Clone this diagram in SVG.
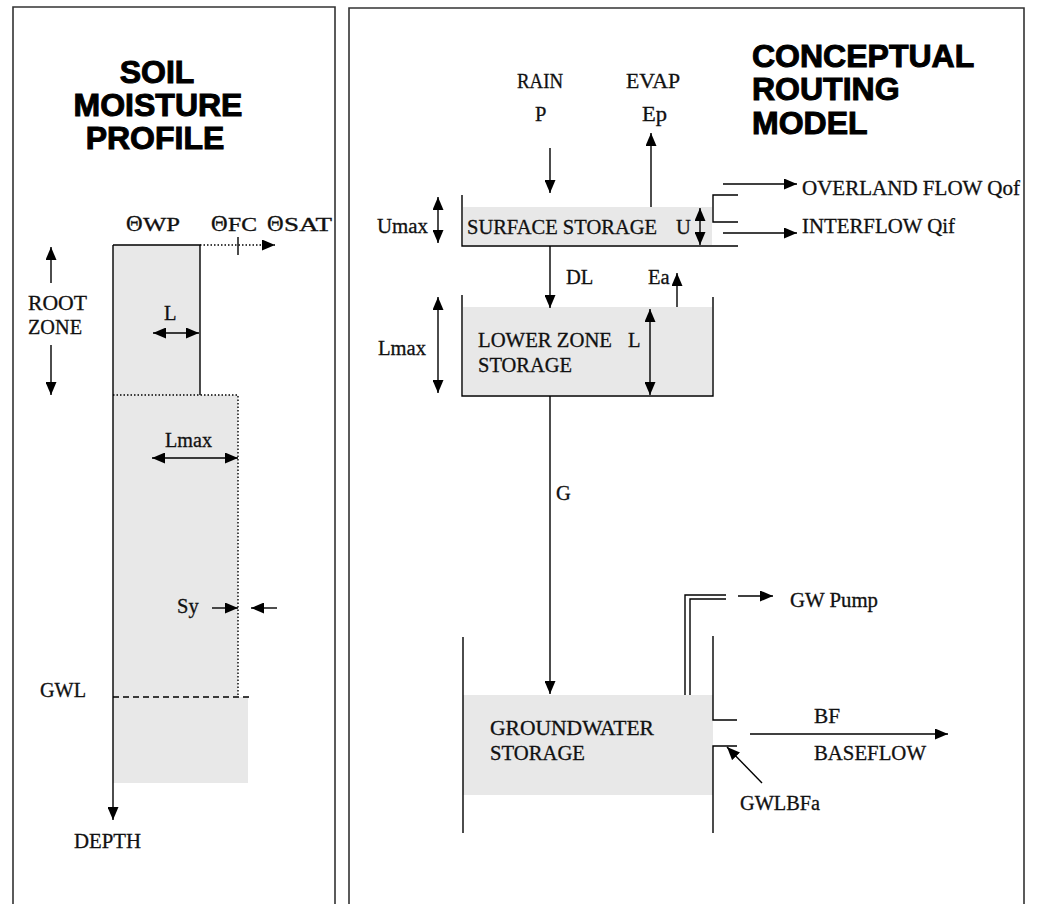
<svg xmlns="http://www.w3.org/2000/svg" width="1037" height="904" viewBox="0 0 1037 904">
<defs>
<marker id="ah" markerUnits="userSpaceOnUse" markerWidth="13" markerHeight="11" refX="13" refY="5.5" orient="auto-start-reverse"><path d="M0,0 L13,5.5 L0,11 z" fill="#000"/></marker>
<style>
.t{font-family:"Liberation Serif","Times New Roman",serif;font-size:20.5px;fill:#111;stroke:#111;stroke-width:0.3}
.s{font-size:18px}
.g{font-size:23px}
.h{font-family:"Liberation Sans",Arial,sans-serif;font-size:32px;font-weight:bold;fill:#000;stroke:#000;stroke-width:1}
.ln{stroke:#000;stroke-width:1.4;fill:none}
.ar{stroke:#000;stroke-width:1.4;fill:none;marker-end:url(#ah)}
.da{stroke:#000;stroke-width:1.4;fill:none;marker-start:url(#ah);marker-end:url(#ah)}
.dot{stroke:#000;stroke-width:1.4;fill:none;stroke-dasharray:1.5 2}
.dash{stroke:#000;stroke-width:1.4;fill:none;stroke-dasharray:6 4}
.fl{fill:#e8e8e8;stroke:none}
.bd{stroke:#333;stroke-width:1.6;fill:none}
</style>
</defs>
<rect width="1037" height="904" fill="#fff"/>

<g id="left-panel">
<path class="bd" d="M13,904 V7 H335 V904"/>
<g id="soil-title" class="h" text-anchor="middle">
<text x="157" y="83">SOIL</text>
<text x="158" y="116">MOISTURE</text>
<text x="155" y="149">PROFILE</text>
</g>
<g id="soil-profile">
<rect class="fl" x="113" y="245" width="87" height="150"/>
<rect class="fl" x="113" y="395" width="125" height="302"/>
<rect class="fl" x="113" y="697" width="135" height="86"/>
<path class="ln" d="M113,245 H200 V395"/>
<path class="dot" d="M113,395 H238 V697"/>
<path class="dash" d="M113,697 H251"/>
</g>
<g id="theta-labels" class="t">
<text class="g" x="126" y="231">Θ</text><text class="s" x="143" y="231" textLength="37" lengthAdjust="spacingAndGlyphs">WP</text>
<text class="g" x="211" y="231">Θ</text><text class="s" x="228" y="231" textLength="29" lengthAdjust="spacingAndGlyphs">FC</text>
<text class="g" x="267" y="231">Θ</text><text class="s" x="284" y="231" textLength="48" lengthAdjust="spacingAndGlyphs">SAT</text>
</g>
<g id="root-zone" class="t">
<text x="28" y="310" textLength="59" lengthAdjust="spacingAndGlyphs">ROOT</text>
<text x="28" y="334" textLength="54" lengthAdjust="spacingAndGlyphs">ZONE</text>
</g>
<g id="left-labels" class="t">
<text x="164" y="320">L</text>
<text x="165" y="447" textLength="47" lengthAdjust="spacingAndGlyphs">Lmax</text>
<text x="177" y="613">Sy</text>
<text x="40" y="697" textLength="46" lengthAdjust="spacingAndGlyphs">GWL</text>
<text x="74" y="848" textLength="67" lengthAdjust="spacingAndGlyphs">DEPTH</text>
</g>
</g>

<g id="right-panel">
<path class="bd" d="M349,904 V8 H1024 V904"/>
<g id="routing-title" class="h">
<text x="752" y="67">CONCEPTUAL</text>
<text x="752" y="100">ROUTING</text>
<text x="752" y="134">MODEL</text>
</g>
<g id="inputs" class="t">
<text x="517" y="88" textLength="46" lengthAdjust="spacingAndGlyphs">RAIN</text>
<text x="626" y="88" textLength="54" lengthAdjust="spacingAndGlyphs">EVAP</text>
<text x="535" y="121">P</text>
<text x="642" y="121" textLength="25" lengthAdjust="spacingAndGlyphs">Ep</text>
</g>
<g id="surface-storage">
<rect class="fl" x="463" y="207" width="249" height="38"/>
<path class="ln" d="M462,195 V246 H738"/>
<path class="ln" d="M738,195 H713 V222 H738"/>
<text class="t" x="467" y="234" textLength="190" lengthAdjust="spacingAndGlyphs">SURFACE STORAGE</text>
<text class="t" x="676" y="234">U</text>
<text class="t" x="377" y="233" textLength="51" lengthAdjust="spacingAndGlyphs">Umax</text>
</g>
<g id="outflows" class="t">
<text x="802" y="195" textLength="218" lengthAdjust="spacingAndGlyphs">OVERLAND FLOW Qof</text>
<text x="802" y="233" textLength="153" lengthAdjust="spacingAndGlyphs">INTERFLOW Qif</text>
</g>
<g id="lower-zone">
<rect class="fl" x="463" y="307" width="249" height="88"/>
<path class="ln" d="M462,295 V396 H713 V297"/>
<text class="t" x="478" y="347" textLength="134" lengthAdjust="spacingAndGlyphs">LOWER ZONE</text>
<text class="t" x="628" y="347">L</text>
<text class="t" x="478" y="372" textLength="94" lengthAdjust="spacingAndGlyphs">STORAGE</text>
<text class="t" x="378" y="355" textLength="48" lengthAdjust="spacingAndGlyphs">Lmax</text>
</g>
<g id="flux-labels" class="t">
<text x="566" y="284">DL</text>
<text x="648" y="284">Ea</text>
<text x="556" y="500">G</text>
</g>
<g id="groundwater-storage">
<rect class="fl" x="463" y="695" width="250" height="100"/>
<path class="ln" d="M463,637 V833"/>
<path class="ln" d="M713,636 V720 H737"/>
<path class="ln" d="M737,746 H713 V833"/>
<path class="ln" d="M685,695 V595 H726" stroke-width="1.2"/>
<path class="ln" d="M690,695 V599 H726" stroke-width="1.2"/>
<text class="t" x="490" y="735" textLength="164" lengthAdjust="spacingAndGlyphs">GROUNDWATER</text>
<text class="t" x="490" y="760" textLength="95" lengthAdjust="spacingAndGlyphs">STORAGE</text>
</g>
<g id="gw-labels" class="t">
<text x="790" y="607" textLength="88" lengthAdjust="spacingAndGlyphs">GW Pump</text>
<text x="814" y="723" textLength="26" lengthAdjust="spacingAndGlyphs">BF</text>
<text x="814" y="760" textLength="112" lengthAdjust="spacingAndGlyphs">BASEFLOW</text>
<text x="740" y="810" textLength="80" lengthAdjust="spacingAndGlyphs">GWLBFa</text>
</g>
</g>

<g id="connectors">
<path class="ar" d="M113,245 V820"/>
<path class="ar" d="M200,245 H275" stroke-dasharray="1.5 2"/>
<path class="ln" d="M238,237 V255"/>
<path class="ar" d="M51,283 V247"/>
<path class="ar" d="M51,345 V395"/>
<path class="da" d="M153,333 H199"/>
<path class="da" d="M152,458 H238"/>
<path class="ar" d="M212,608 H238"/>
<path class="ar" d="M277,608 H251"/>
<path class="ar" d="M550,148 V193"/>
<path class="ar" d="M651,207 V133"/>
<path class="ar" d="M723,184 H797"/>
<path class="ar" d="M723,233 H797"/>
<path class="da" d="M438,197 V243"/>
<path class="da" d="M700,208 V245"/>
<path class="ar" d="M550,246 V308"/>
<path class="ar" d="M677,307 V273"/>
<path class="da" d="M438,297 V393"/>
<path class="da" d="M650,309 V395"/>
<path class="ar" d="M550,396 V694"/>
<path class="ar" d="M738,596 H773"/>
<path class="ar" d="M750,734 H948"/>
<path class="ar" d="M762,783 L727,747"/>
</g>
</svg>
